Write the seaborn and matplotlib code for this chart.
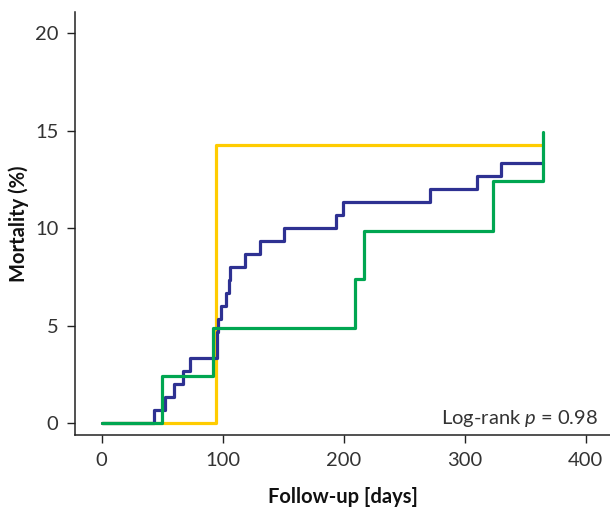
import matplotlib
matplotlib.use("Agg")
import matplotlib.pyplot as plt
import seaborn as sns
import pandas as pd

# Cumulative mortality (%) step curves: event times (days) and levels after each event
blue_days = [0, 43, 52, 60, 67, 73, 95, 95.5, 96, 99, 103, 105, 106, 118.5, 130.5,
             151, 194, 199, 271, 310, 330, 365]
blue_mort = [0, 0.67, 1.33, 2.0, 2.67, 3.33, 4.0, 4.67, 5.33, 6.0, 6.67, 7.33, 8.0,
             8.67, 9.33, 10.0, 10.67, 11.33, 12.0, 12.67, 13.33, 13.33]

yellow_days = [0, 94.4, 365]
yellow_mort = [0, 14.29, 14.29]

green_days = [0, 50, 91.6, 209, 216.5, 323.5, 365]
green_mort = [0, 2.44, 4.88, 7.38, 9.88, 12.45, 14.95]

x_ticks = [0, 100, 200, 300, 400]
y_ticks = [0, 5, 10, 15, 20]
p_text = "Log-rank $\\mathit{p}$ = 0.98"

sns.set_style("ticks")
plt.rcParams["font.family"] = ["Lato", "DejaVu Sans"]
plt.rcParams["mathtext.fontset"] = "custom"
plt.rcParams["mathtext.it"] = "Lato:italic"
plt.rcParams["mathtext.rm"] = "Lato"

frames = []
for name, d, m in [("Group 1", yellow_days, yellow_mort),
                   ("Group 2", blue_days, blue_mort),
                   ("Group 3", green_days, green_mort)]:
    frames.append(pd.DataFrame({"group": name, "days": d, "mortality": m}))
df = pd.concat(frames, ignore_index=True)

palette = {"Group 1": "#FFCC00", "Group 2": "#2E3192", "Group 3": "#00A651"}

fig = plt.figure(figsize=(6.1, 5.11), dpi=100)
ax = fig.add_axes([75 / 610, 1 - 435 / 511, 535 / 610, 423 / 511])

sns.lineplot(data=df, x="days", y="mortality", hue="group", palette=palette,
             estimator=None, sort=False, drawstyle="steps-post", linewidth=2.3,
             legend=False, ax=ax)

ax.set_xlim(-22, 420)
ax.set_ylim(-0.6, 21.1)
ax.set_xticks(x_ticks)
ax.set_yticks(y_ticks)

ax.set_xlabel("Follow-up [days]", fontsize=14.5, fontweight="bold", color="#111111", labelpad=13)
ax.set_ylabel("Mortality (%)", fontsize=14.5, fontweight="bold", color="#111111", labelpad=4)

ax.tick_params(axis="both", direction="out", length=6, width=1, color="#222222",
               labelsize=14.5, labelcolor="#333333", pad=6)

sns.despine(ax=ax)
for side in ("left", "bottom"):
    ax.spines[side].set_color("#222222")
    ax.spines[side].set_linewidth(1.1)

ax.text(410, 0.25, p_text, ha="right", va="center", fontsize=14.5, color="#333333")

fig.savefig("out.png", dpi=100)
